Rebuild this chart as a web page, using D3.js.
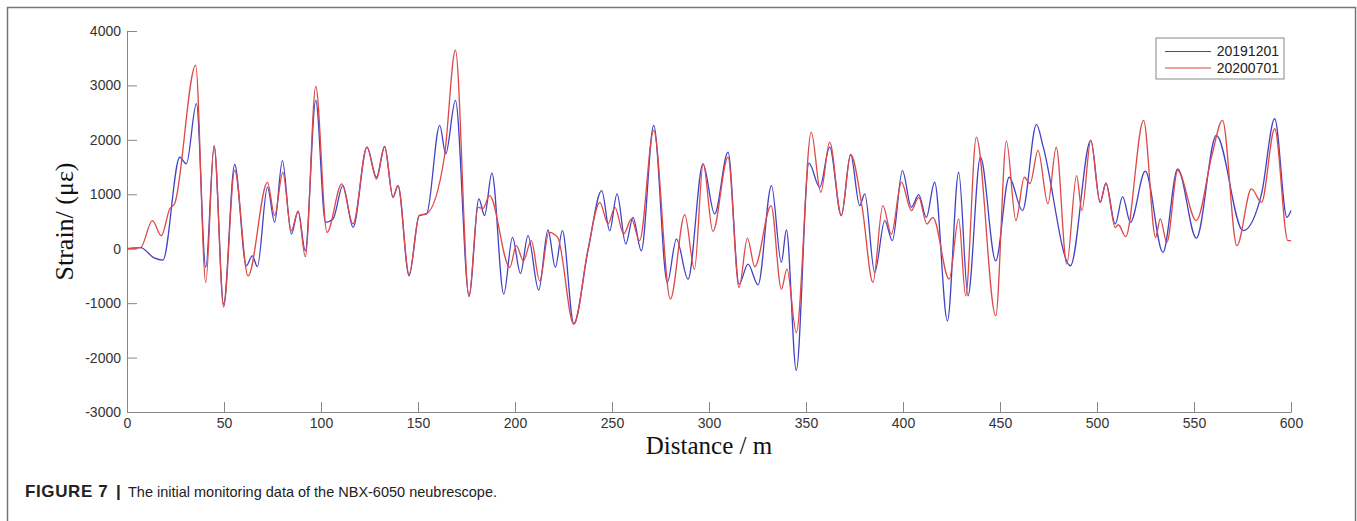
<!DOCTYPE html>
<html>
<head>
<meta charset="UTF-8">
<title>Strain vs distance</title>
<script src="https://cdn.jsdelivr.net/npm/d3@7"></script>
<style>
  body { margin: 0; background: #fff; }
  .tick text { font-family: "Liberation Sans", Arial, sans-serif; font-size: 14px; fill: #333; }
  .axis path, .axis line { stroke: #888; }
</style>
</head>
<body>
<div id="chart"></div>
<script>
// readings taken off the figure: distance (m) and strain (micro-strain)
var blueDist = [0, 7, 14, 18.5, 27.2, 30.6, 35.8, 40.6, 44.9, 49.8, 55.5, 61.5, 64.6, 67.2, 72.4, 76.1, 80.1, 84.7, 88.2, 91.9,
  97.3, 102.3, 106.2, 111.3, 116.5, 123.7, 128.6, 132.8, 137.1, 139.7, 145.4, 150.6, 154.5, 161.2, 164.3, 169.3, 176.3, 181.4, 184.3, 188.1,
  194.2, 198.7, 202.8, 206.7, 212.2, 217, 220.8, 224.4, 230.3, 237.6, 244.7, 248.8, 252.6, 257.1, 260.8, 265.1, 271.5, 278.5, 283.2, 289.2,
  296.9, 302.9, 309.8, 315.5, 320.1, 325.3, 332.2, 337.3, 339.9, 345, 351.5, 357.1, 362.2, 368.2, 373, 377.7, 380.3, 385.4, 390.6, 394.5,
  399.7, 404.3, 408.1, 412, 416.3, 422.9, 428.7, 433.5, 439.9, 447.8, 454.7, 461.6, 468.8, 472.3, 486.3, 496.8, 501.6, 504.6, 509.4, 513.2,
  517.2, 524.9, 534, 541.6, 551.2, 561.5, 575.3, 584.8, 591.6, 597.9, 600];
var blueStrain = [0, 20, -170, -210, 1680, 1560, 2665, -344, 1880, -1020, 1547, -313, -130, -330, 1130, 485, 1620, 270, 690, -37,
  2725, 485, 547, 1160, 392, 1866, 1313, 1878, 945, 1160, -497, 608, 645, 2265, 1744, 2725, -866, 915, 608, 1387,
  -835, 208, -454, 239, -761, 344, -344, 331, -1376, -37, 1068, 331, 1007, 86, 577, -37, 2265, -620, 178, -559,
  1560, 639, 1774, -650, -282, -663, 1160, -252, 344, -2234, 1571, 1130, 1866, 608, 1731, 792, 1007, -436, 515, 147,
  1436, 761, 994, 577, 1221, -1326, 1405, -866, 1682, -221, 1313, 700, 2284, 1866, -313, 1989, 853, 1203, 455, 958,
  485, 1424, -68, 1468, 196, 2081, 331, 1007, 2388, 577, 700];

var redDist = [0, 7, 13.1, 17.7, 22, 24.6, 35.4, 40.6, 44.9, 49.8, 55.5, 62.4, 72.4, 76.1, 80.3, 84.7, 88.2, 91.9,
  97.3, 103.1, 110.7, 116.5, 123.7, 128.6, 132.8, 137.1, 139.7, 145.4, 150.6, 154.5, 163.7, 169.3, 176.3, 180.9, 183.5, 186.9,
  197.3, 200.7, 204.3, 208.4, 212.7, 217.5, 222, 230.3, 237.6, 243.7, 248, 251.5, 256, 260, 264.2, 271.5, 280.1, 287.5, 292.5,
  297, 302, 309.8, 315.5, 319.8, 323.6, 332, 337.3, 340.2, 345, 352.7, 357.6, 362.2, 368.2, 373, 379, 384.5, 389.6, 394,
  399.2, 404.3, 408.1, 412.3, 415.4, 423.8, 428.7, 432.3, 437.8, 447.8, 453.3, 458.2, 462.5, 465.5, 469.6, 474.7, 479, 484.4, 489.5, 492.2,
  496.8, 501.6, 504.6, 509.4, 511, 514.8, 524, 530.2, 532.6, 536, 541.6, 551.2, 559.2, 564.7, 572.1, 579.6, 584.8, 591.6, 598.4, 600];
var redStrain = [0, 20, 515, 240, 730, 830, 3370, -620, 1900, -1070, 1440, -500, 1220, 610, 1400, 330, 690, -147,
  2980, 300, 1190, 455, 1866, 1280, 1878, 945, 1160, -466, 608, 645, 1713, 3646, -880, 760, 740, 976,
  -344, 55, -220, 147, -590, 300, 208, -1390, -20, 853, 455, 760, 270, 547, 147, 2173, -927, 626, -380,
  1560, 319, 1682, -712, 196, -331, 792, -742, -374, -1541, 2142, 1037, 1958, 608, 1731, 750, -620, 792, 270,
  1221, 700, 945, 455, 577, -559, 547, -866, 2050, -1234, 1976, 516, 1313, 1200, 1805, 823, 1866, -282, 1344, 700,
  1989, 853, 1203, 392, 440, 221, 2358, 208, 547, 116, 1436, 516, 1713, 2358, 55, 1099, 853, 2204, 147, 147];

var seriesNames = ["20191201", "20200701"];
var seriesColors = ["#4242c4", "#de4848"];
var xTicks = [0, 50, 100, 150, 200, 250, 300, 350, 400, 450, 500, 550, 600];
var yTicks = [-3000, -2000, -1000, 0, 1000, 2000, 3000, 4000];

var W = 1357, H = 521;
var margin = { top: 31, right: 66, bottom: 109, left: 127 },
    width = W - margin.left - margin.right,
    height = H - margin.top - margin.bottom;

var svg = d3.select("#chart").append("svg")
    .attr("width", W)
    .attr("height", H);

// figure frame
svg.append("rect")
    .attr("x", 7.5).attr("y", 7.5)
    .attr("width", W - 9).attr("height", H + 20)
    .attr("fill", "none")
    .attr("stroke", "#777")
    .attr("stroke-width", 1.5);

var g = svg.append("g")
    .attr("transform", "translate(" + margin.left + "," + margin.top + ")");

var x = d3.scaleLinear().domain([0, 600]).range([0, width]);
var y = d3.scaleLinear().domain([-3000, 4000]).range([height, 0]);

var plain = function (d) { return String(d); };

g.append("g")
    .attr("class", "axis")
    .attr("transform", "translate(0," + height + ")")
    .call(d3.axisBottom(x).tickValues(xTicks).tickFormat(plain)
        .tickSizeInner(-10).tickSizeOuter(0).tickPadding(6));

g.append("g")
    .attr("class", "axis")
    .call(d3.axisLeft(y).tickValues(yTicks).tickFormat(plain)
        .tickSizeInner(-10).tickSizeOuter(0).tickPadding(6));

var line = d3.line()
    .x(function (d) { return x(d[0]); })
    .y(function (d) { return y(d[1]); })
    .curve(d3.curveMonotoneX);

var blueData = d3.zip(blueDist, blueStrain);
var redData = d3.zip(redDist, redStrain);

[blueData, redData].forEach(function (data, i) {
    g.append("path")
        .datum(data)
        .attr("d", line)
        .attr("fill", "none")
        .attr("stroke", seriesColors[i])
        .attr("stroke-width", 1.3);
});

// legend
var legend = svg.append("g").attr("transform", "translate(1156,38)");
legend.append("rect")
    .attr("width", 128).attr("height", 41)
    .attr("fill", "#fff")
    .attr("stroke", "#888");
seriesNames.forEach(function (name, i) {
    var ly = 13.5 + i * 16.5;
    legend.append("line")
        .attr("x1", 9).attr("x2", 55)
        .attr("y1", ly).attr("y2", ly)
        .attr("stroke", seriesColors[i])
        .attr("stroke-width", 1.2);
    legend.append("text")
        .attr("x", 123).attr("y", ly)
        .attr("dy", "0.35em")
        .attr("text-anchor", "end")
        .style("font-family", "Liberation Sans, Arial, sans-serif")
        .style("font-size", "14px")
        .attr("fill", "#222")
        .text(name);
});

// axis titles
svg.append("text")
    .attr("x", margin.left + width / 2)
    .attr("y", 454)
    .attr("text-anchor", "middle")
    .style("font-family", "Liberation Serif, Times New Roman, serif")
    .style("font-size", "25px")
    .attr("fill", "#111")
    .text("Distance / m");

svg.append("text")
    .attr("transform", "translate(73," + (margin.top + height / 2) + ") rotate(-90)")
    .attr("text-anchor", "middle")
    .style("font-family", "Liberation Serif, Times New Roman, serif")
    .style("font-size", "26px")
    .attr("fill", "#111")
    .text("Strain/ (\u03bc\u03b5)");

// caption
var capFont = "Liberation Sans, Arial, sans-serif";
svg.append("text")
    .attr("x", 25).attr("y", 497)
    .style("font-family", capFont).style("font-size", "17px").style("font-weight", "bold")
    .style("letter-spacing", "0.6px")
    .attr("fill", "#222")
    .text("FIGURE 7");
svg.append("text")
    .attr("x", 116).attr("y", 497)
    .style("font-family", capFont).style("font-size", "17px").style("font-weight", "bold")
    .attr("fill", "#222")
    .text("|");
svg.append("text")
    .attr("x", 128).attr("y", 497)
    .attr("textLength", 369).attr("lengthAdjust", "spacing")
    .style("font-family", capFont).style("font-size", "14.5px")
    .attr("fill", "#222")
    .text("The initial monitoring data of the NBX-6050 neubrescope.");
</script>
</body>
</html>
